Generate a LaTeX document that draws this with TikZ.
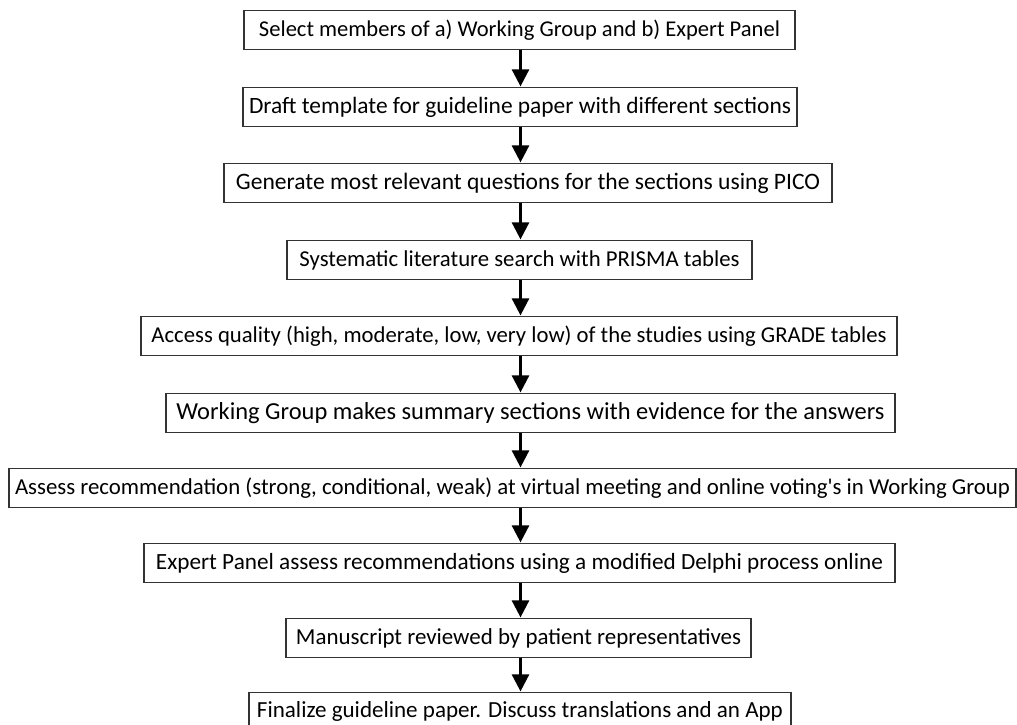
\documentclass[tikz,border=0pt]{standalone}
\usepackage{fontspec}
\usepackage{graphicx}
\setmainfont{Carlito}[Ligatures=TeXOff]
\usetikzlibrary{arrows.meta}
\newcommand\fitw[2]{\resizebox{#1pt}{!}{#2}}
\begin{document}
\begin{tikzpicture}[x=1pt,y=-1pt,
  stepbox/.style={draw=black!80, line width=1.2pt, minimum height=39pt, inner xsep=0pt, inner ysep=0pt, anchor=north, font=\fontsize{23}{26}\selectfont},
  flow/.style={line width=2.6pt, -{Triangle[width=17pt,length=17pt]}, shorten >=0.6pt}]
\useasboundingbox (0,0) rectangle (1017,725);
\clip (0,0) rectangle (1017,725);
\node[stepbox, minimum width=551pt] (n1) at (519.5,10) {\fitw{521}{Select members of a) Working Group and b) Expert Panel}};
\node[stepbox, minimum width=554pt] (n2) at (520,87) {\fitw{542}{Draft template for guideline paper with different sections}};
\node[stepbox, minimum width=608pt] (n3) at (528,163) {\fitw{584}{Generate most relevant questions for the sections using PICO}};
\node[stepbox, minimum width=465pt] (n4) at (519.5,240) {\fitw{440}{Systematic literature search with PRISMA tables}};
\node[stepbox, minimum width=756pt] (n5) at (519,316) {\fitw{735}{Access quality (high, moderate, low, very low) of the studies using GRADE tables}};
\node[stepbox, minimum width=729pt] (n6) at (530.5,393) {\fitw{708}{Working Group makes summary sections with evidence for the answers}};
\node[stepbox, minimum width=1007pt] (n7) at (512.5,468) {\fitw{995}{Assess recommendation (strong, conditional, weak) at virtual meeting and online voting's in Working Group}};
\node[stepbox, minimum width=751pt] (n8) at (519.5,543) {\fitw{727}{Expert Panel assess recommendations using a modified Delphi process online}};
\node[stepbox, minimum width=465pt] (n9) at (518.5,618) {\fitw{445}{Manuscript reviewed by patient representatives}};
\node[stepbox, minimum width=542pt, minimum height=0pt, text height=25pt, text depth=14pt] (n10) at (520,692) {\fitw{526}{Finalize guideline paper. Discuss translations and an App}};
\foreach \a/\b in {n1/n2,n2/n3,n3/n4,n4/n5,n5/n6,n6/n7,n7/n8,n8/n9,n9/n10}
  \draw[flow] (\a.south -| 520.5,0) -- (\b.north -| 520.5,0);
\end{tikzpicture}
\end{document}
